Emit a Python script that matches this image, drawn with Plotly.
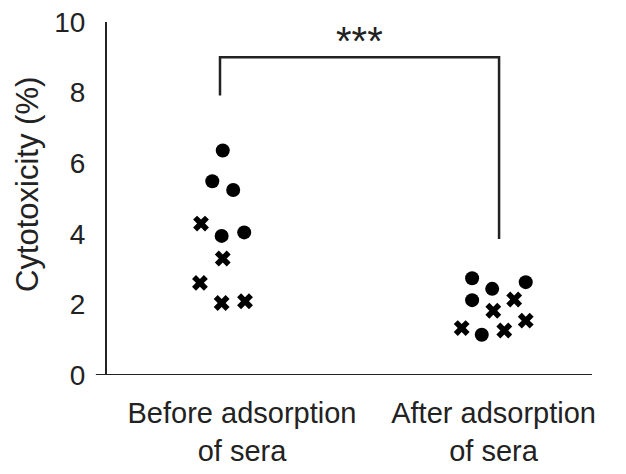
import plotly.graph_objects as go

# ---- data ----
categories = ["Before adsorption<br>of sera", "After adsorption<br>of sera"]
category_pos = [1.08, 1.995]          # label centres on the numeric x axis

# group index (1 = before, 2 = after) and horizontal jitter of each point
circle_group = [1, 1, 1, 1, 1, 2, 2, 2, 2, 2]
circle_jitter = [0.01, -0.028, 0.048, 0.006, 0.088, -0.083, -0.01, 0.112, -0.083, -0.048]
circle_values = [6.36, 5.49, 5.24, 3.94, 4.04, 2.74, 2.44, 2.63, 2.12, 1.14]

cross_group = [1, 1, 1, 1, 1, 2, 2, 2, 2, 2]
cross_jitter = [-0.069, 0.01, -0.073, 0.006, 0.091, 0.07, -0.006, -0.121, 0.034, 0.112]
cross_values = [4.29, 3.30, 2.61, 2.04, 2.09, 2.14, 1.82, 1.33, 1.26, 1.54]

y_ticks = [0, 2, 4, 6, 8, 10]
y_title = "Cytotoxicity (%)"

# significance bracket
sig_x = [1.0, 2.015]
sig_top = 9.0
sig_left_end = 7.92
sig_right_end = 3.85
sig_label = "***"

AX = "#222222"
FONT = "Liberation Sans, Arial, sans-serif"

cx = [g + j for g, j in zip(circle_group, circle_jitter)]
xx = [g + j for g, j in zip(cross_group, cross_jitter)]

fig = go.Figure()
fig.add_trace(go.Scatter(x=cx, y=circle_values, mode="markers",
                         marker=dict(symbol="circle", size=14, color="black"),
                         showlegend=False, hoverinfo="skip"))
fig.add_trace(go.Scatter(x=xx, y=cross_values, mode="markers",
                         marker=dict(symbol="x", size=14, color="black",
                                     line=dict(width=0)),
                         showlegend=False, hoverinfo="skip"))

# bracket
fig.add_trace(go.Scatter(x=[sig_x[0], sig_x[0], sig_x[1], sig_x[1]],
                         y=[sig_left_end, sig_top, sig_top, sig_right_end],
                         mode="lines", line=dict(color=AX, width=2.5),
                         showlegend=False, hoverinfo="skip"))
fig.add_annotation(x=(sig_x[0] + sig_x[1]) / 2, y=sig_top, yshift=16,
                   text=sig_label, showarrow=False,
                   font=dict(family=FONT, size=40, color=AX))

# y-axis title
fig.add_annotation(xref="paper", yref="paper", x=-0.165, y=0.541,
                   text=y_title, textangle=-90, showarrow=False,
                   xanchor="center", yanchor="middle",
                   font=dict(family=FONT, size=31, color=AX))

# x axis line (extends a bit left of the y axis)
fig.add_shape(type="line", xref="paper", yref="y", x0=-0.023, x1=1, y0=0, y1=0,
              line=dict(color=AX, width=2))

fig.update_layout(
    width=618, height=466,
    margin=dict(l=99, r=34, t=14, b=99),
    paper_bgcolor="white", plot_bgcolor="white",
    font=dict(family=FONT, color="#222222"),
    xaxis=dict(range=[0.589, 2.353], showgrid=False, zeroline=False,
               showline=False, tickvals=category_pos, ticktext=categories,
               ticks="", tickfont=dict(size=29), ticklabelstandoff=18,
               automargin=False, ticklabeloverflow="allow"),
    yaxis=dict(range=[0, 10], showgrid=False, zeroline=False,
               showline=True, linecolor=AX, linewidth=2,
               tickvals=y_ticks, ticks="", tickfont=dict(size=28),
               ticklabelstandoff=14, automargin=False,
               ticklabeloverflow="allow"),
)

fig.write_html("out.html")
